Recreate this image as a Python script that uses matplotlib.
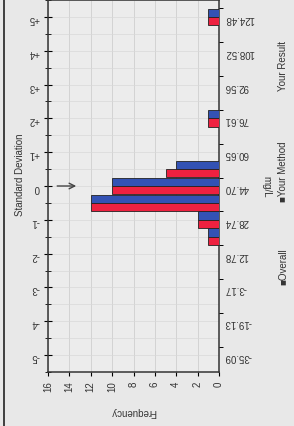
import matplotlib
matplotlib.use("Agg")
import matplotlib.pyplot as plt
import numpy as np

plt.rcParams['font.family'] = ['Liberation Sans', 'DejaVu Sans']

# ---- data ----
mean_val = 44.70
sd_val = 15.958
value_labels = [-35.09, -19.13, -3.17, 12.78, 28.74, 44.70, 60.65, 76.61, 92.56, 108.52, 124.48]
sd_labels = ["-5", "-4", "-3", "-2", "-1", "0", "+1", "+2", "+3", "+4", "+5"]
bin_centers = [20.76, 28.74, 36.72, 44.70, 52.68, 76.61, 124.48]
overall_counts = [1, 2, 12, 10, 5, 1, 1]
method_counts = [1, 2, 12, 10, 4, 1, 1]
freq_ticks = [0, 2, 4, 6, 8, 10, 12, 14, 16]

blue = '#3352b4'
red = '#ee2140'
bg = '#e8e8e8'

W, H = 294, 427
fig = plt.figure(figsize=(W / 100, H / 100), dpi=100, facecolor=bg)
ax = fig.add_axes([48 / W, (H - 373) / H, (219 - 48) / W, (373 - 1) / H])
ax.set_facecolor('#ececec')

half = sd_val / 4.0
hbar = half * 0.98
ax.barh(np.array(bin_centers) + half / 2, method_counts, height=hbar,
        color=blue, edgecolor='#222222', linewidth=0.6, zorder=3)
ax.barh(np.array(bin_centers) - half / 2, overall_counts, height=hbar,
        color=red, edgecolor='#222222', linewidth=0.6, zorder=3)

ax.set_xlim(16, 0)
ax.set_ylim(-41.0, 128.6)

# SD positions
sd_pos = [mean_val + k * sd_val for k in range(-5, 6)]
ax.set_yticks(sd_pos)
ax.set_yticklabels(sd_labels, rotation=180, fontsize=7, color='#333333')
ax.set_yticks([mean_val + (k + 0.5) * sd_val for k in range(-6, 6)], minor=True)
ax.tick_params(axis='y', which='major', direction='inout', length=6, width=0.8, pad=3)
ax.tick_params(axis='y', which='minor', direction='inout', length=4, width=0.6)

ax.set_xticks(freq_ticks)
ax.set_xticklabels([str(t) for t in freq_ticks], rotation=90, fontsize=7, color='#333333')
ax.tick_params(axis='x', direction='out', length=3, width=0.8, pad=3)

ax.grid(axis='x', color='#cfcfcf', linewidth=0.6, zorder=0)
ax.grid(axis='y', which='minor', color='#d8d8d8', linewidth=0.5, zorder=0)
ax.grid(axis='y', which='major', color='#d8d8d8', linewidth=0.5, zorder=0)

for s in ax.spines.values():
    s.set_color('#333333')
    s.set_linewidth(1.1)

ax2 = ax.twinx()
ax2.set_ylim(ax.get_ylim())
ax2.set_yticks(value_labels)
ax2.set_yticklabels(["%.2f" % v for v in value_labels], rotation=180,
                    fontsize=7, color='#333333')
ax2.set_yticks([v + half for v in value_labels], minor=True)
ax2.tick_params(axis='y', which='major', length=0, pad=4)
ax2.tick_params(axis='y', which='minor', direction='out', length=3, width=0.7)
for s in ax2.spines.values():
    s.set_visible(False)

# arrow at mean
ax.annotate('', xy=(13.1, mean_val), xytext=(15.4, mean_val),
            arrowprops=dict(arrowstyle='->', color='#444444', lw=1.0), zorder=4)

# texts
fig.text(20 / W, 1 - 175 / H, 'Standard Deviation', rotation=90, fontsize=7,
         ha='center', va='center', color='#333333')
fig.text(133 / W, 1 - 412 / H, 'Frequency', rotation=180, fontsize=7,
         ha='center', va='center', color='#333333')
fig.text(266 / W, 1 - 187 / H, 'mg/L', rotation=270, fontsize=7,
         ha='center', va='center', color='#333333')
fig.text(283 / W, 1 - 66 / H, 'Your Result', rotation=90, fontsize=7,
         ha='center', va='center', color='#333333')
fig.text(283 / W, 1 - 172 / H, '\u25a0Your Method', rotation=90, fontsize=7,
         ha='center', va='center', color='#333333')
fig.text(283 / W, 1 - 267 / H, '\u25a0Overall', rotation=90, fontsize=7,
         ha='center', va='center', color='#333333')

# outer frame line on the left
fig.add_artist(plt.Line2D([3.5 / W, 3.5 / W], [0, 1], color='#222222', linewidth=1.2))

fig.savefig('out.png', dpi=100, facecolor=bg)
